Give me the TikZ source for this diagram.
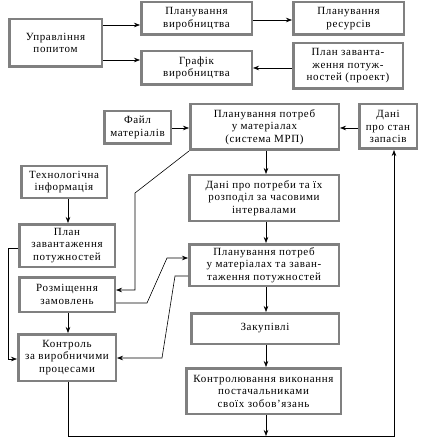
\documentclass[tikz,border=0pt]{standalone}
\usepackage{fontspec}
\setmainfont{Liberation Serif}[LetterSpace=6]
\usetikzlibrary{arrows.meta}
\begin{document}
\begin{tikzpicture}[x=1pt,y=-1pt,
  box/.style={draw=black!50,line width=2.5pt,fill=white,align=center,inner sep=1pt,
    font=\fontsize{11}{12.5}\selectfont},
  arr/.style={-{Stealth[length=6pt,width=4.5pt]},line width=0.6pt},
  ln/.style={line width=0.6pt}]
\useasboundingbox (0,0) rectangle (423,438);
% top section
\node[box,minimum width=92.5pt,minimum height=47.5pt] (upr) at (55.5,43) {Управління\\попитом};
\node[box,minimum width=110.5pt,minimum height=32.5pt] (planv) at (196.5,18.5) {Планування\\виробництва};
\node[box,minimum width=110.5pt,minimum height=32.5pt] (planr) at (348.5,18.5) {Планування\\ресурсів};
\node[box,minimum width=110.5pt,minimum height=33.5pt] (graf) at (196.5,68) {Графік\\виробництва};
\node[box,minimum width=109.5pt,minimum height=45.5pt] (planz) at (348,66) {План заванта-\\ження потуж-\\ностей (проект)};
% middle
\node[box,minimum width=66.5pt,minimum height=32.5pt] (fail) at (137.5,127.5) {Файл\\матеріалів};
\node[box,minimum width=148.5pt,minimum height=45.5pt] (mrp) at (264.5,127) {Планування потреб\\у матеріалах\\(система МРП)};
\node[box,minimum width=57.5pt,minimum height=44.5pt] (zap) at (388,126.5) {Дані\\про стан\\запасів};
\node[box,minimum width=85.5pt,minimum height=31.5pt] (tech) at (64,182) {Технологічна\\інформація};
\node[box,minimum width=149.5pt,minimum height=45.5pt] (dani) at (264,198) {Дані про потреби та їх\\розподіл за часовими\\інтервалами};
\node[box,minimum width=95.5pt,minimum height=42.5pt] (plpot) at (67,245.5) {План\\завантаження\\потужностей};
\node[box,minimum width=149.5pt,minimum height=41.5pt] (plmat) at (264,265) {Планування потреб\\у матеріалах  та заван-\\таження потужностей};
\node[box,minimum width=95.5pt,minimum height=34.5pt] (rozm) at (67,294.5) {Розміщення\\замовлень};
\node[box,minimum width=147.5pt,minimum height=30.5pt] (zak) at (265,328.5) {Закупівлі};
\node[box,minimum width=97.5pt,minimum height=46.5pt] (kontr) at (67,357.5) {Контроль\\за виробничими\\процесами};
\node[box,minimum width=154.5pt,minimum height=45.5pt] (kontrv) at (263.5,391) {Контролювання виконання\\постачальниками\\своїх зобов’язань};
% coordinates
\coordinate (b1) at (135,193);
\coordinate (b2) at (135,290);
\coordinate (c1) at (147,303);
\coordinate (c2) at (167,258);
\coordinate (d1) at (175,276);
\coordinate (d2) at (162,358);
\coordinate (e1) at (8,248);
\coordinate (e2) at (8,359);
\coordinate (f1) at (68,436);
\coordinate (f2) at (394,436);
\coordinate (f3) at (394,150);
% top arrows
\draw[arr] (upr.east |- 0,25) -- (planv.west |- 0,25);
\draw[arr] (upr.east |- 0,60) -- (graf.west |- 0,60);
\draw[arr] (planv.east |- 0,20) -- (planr.west |- 0,20);
\draw[arr] (planz.west |- 0,68) -- (graf.east |- 0,68);
% middle arrows
\draw[arr] (fail.east |- 0,128) -- (mrp.west |- 0,128);
\draw[arr] (zap.west |- 0,128) -- (mrp.east |- 0,128);
\draw[arr] (mrp.south -| 266,0) -- (dani.north -| 266,0);
\draw[arr] (dani.south -| 266,0) -- (plmat.north -| 266,0);
\draw[arr] (plmat.south -| 266,0) -- (zak.north -| 266,0);
\draw[arr] (zak.south -| 266,0) -- (kontrv.north -| 266,0);
\draw[arr] (kontrv.south -| 266,0) -- (266,436);
\draw[arr] (tech.south -| 68,0) -- (plpot.north -| 68,0);
\draw[arr] (rozm.south -| 68,0) -- (kontr.north -| 68,0);
\draw[arr] (mrp.south west) -- (b1) -- (b2) -- (rozm.east |- b2);
\draw[arr] (rozm.east |- c1) -- (c1) -- (c2) -- (plmat.west |- c2);
\draw[arr] (plmat.west |- d1) -- (d1) -- (d2) -- (kontr.east |- d2);
\draw[arr] (plpot.west |- e1) -- (e1) -- (e2) -- (kontr.west |- e2);
\draw[arr] (kontr.south -| f1) -- (f1) -- (f2) -- (f3);
\end{tikzpicture}
\end{document}
